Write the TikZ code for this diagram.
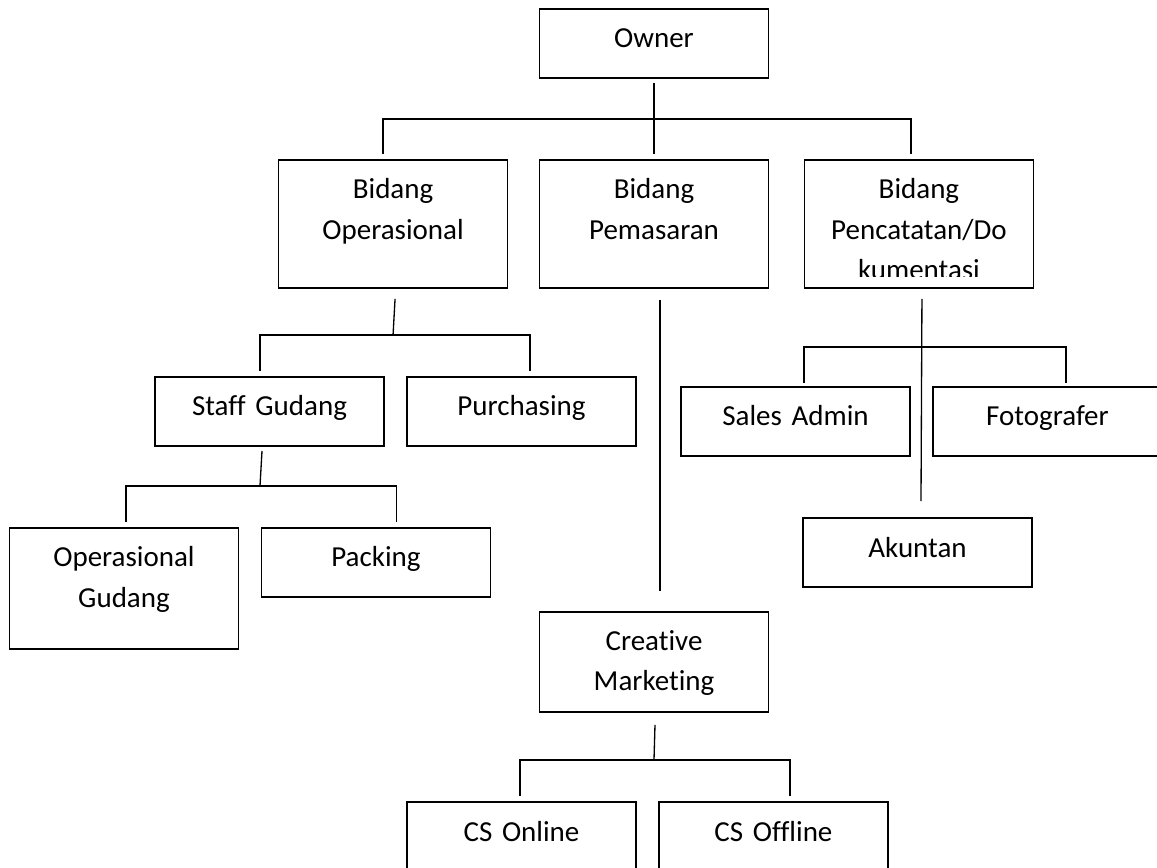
\documentclass[tikz,border=0pt]{standalone}
\usepackage{fontspec}
\setmainfont{Carlito}[Ligatures=NoCommon]
\usetikzlibrary{positioning}
\tikzstyle{obox}=[rectangle, draw=black, line width=1pt, minimum width=4.58cm,
                  text width=4.4cm, align=center, inner sep=0pt, outer sep=0pt,
                  font=\fontsize{16.5pt}{22.8pt}\selectfont,
                  text height=0.78cm, text depth=0.6cm]
\tikzstyle{tbox}=[obox, text depth=1.78cm]
\tikzstyle{oline}=[-, line width=0.75pt]

\begin{document}
\begin{tikzpicture}[x=0.02cm, y=-0.02cm]
\useasboundingbox (0,0) rectangle (1157,868);

\node (OWNER) [obox] at (654,43.5) {Owner};
\node (BPEM) [tbox, below=1.64cm of OWNER] {Bidang\\Pemasaran};
\node (BOPS) [tbox, left=0.64cm of BPEM] {Bidang\\Operasional};
\node (BPEN) [tbox, right=0.72cm of BPEM] {Bidang\\Pencatatan/Do\\\phantom{kumentasi}};
\begin{scope}
 \clip (BPEN.north west) rectangle ([shift={(0,-11)}]BPEN.south east);
 \node (BPENTXT) [font=\fontsize{16.5pt}{22.8pt}\selectfont, inner sep=0pt, anchor=base]
   at ([shift={(0,120)}]BPEN.north) {kumentasi};
\end{scope}
 \draw[oline] ([shift={(0,5)}]OWNER.south) -- ([shift={(0,-6)}]BPEM.north);
 \draw[oline] ([shift={(-10,-6)}]BOPS.north) |- ([shift={(0,-41)}]BPEM.north) -| ([shift={(-8,-6)}]BPEN.north);

\node (STAFF) [obox] at (269.5,411.5) {Staff Gudang};
\node (PURCH) [obox, right=0.46cm of STAFF] {Purchasing};
 \draw[oline] ([shift={(2,11)}]BOPS.south) -- ([shift={(0,47)}]BOPS.south);
 \draw[oline] ([shift={(-9.5,-6)}]STAFF.north) |- ([shift={(0,47)}]BOPS.south) -| ([shift={(8.5,-6)}]PURCH.north);

\node (OPSG) [obox, text depth=1.64cm, anchor=north] at (124,528) {Operasional\\Gudang};
\node (PACK) [obox, anchor=north west] at ([xshift=0.46cm]OPSG.north east) {Packing};
 \draw[oline] ([shift={(-7.5,5)}]STAFF.south) -- ([shift={(-9.5,40)}]STAFF.south);
 \draw[oline] ([shift={(2,-6)}]OPSG.north) |- ([shift={(-9.5,40)}]STAFF.south) -| ([shift={(20.5,-6)}]PACK.north);

\node (SALES) [obox] at (795.5,421.5) {Sales Admin};
\node (FOTO) [obox, right=0.46cm of SALES] {Fotografer};
\node (AKUN) [obox] at (917.5,552.5) {Akuntan};
 \draw[oline] ([shift={(3,11)}]BPEN.south) -- ([shift={(3.5,-17)}]AKUN.north);
 \draw[oline] ([shift={(8.5,-4)}]SALES.north) |- ([shift={(3,59)}]BPEN.south) -| ([shift={(18.5,-4)}]FOTO.north);

\node (CREA) [obox, text depth=1.22cm, below=6.48cm of BPEM] {Creative\\Marketing};
 \draw[oline] ([shift={(6,12)}]BPEM.south) -- ([shift={(6,-21)}]CREA.north);

\node (CSON) [obox] at (521.5,836.5) {CS Online};
\node (CSOFF) [obox, right=0.46cm of CSON] {CS Offline};
 \draw[oline] ([shift={(1,13)}]CREA.south) -- ([shift={(0,48)}]CREA.south);
 \draw[oline] ([shift={(-1.5,-6)}]CSON.north) |- ([shift={(0,48)}]CREA.south) -| ([shift={(16.5,-6)}]CSOFF.north);

\end{tikzpicture}
\end{document}
